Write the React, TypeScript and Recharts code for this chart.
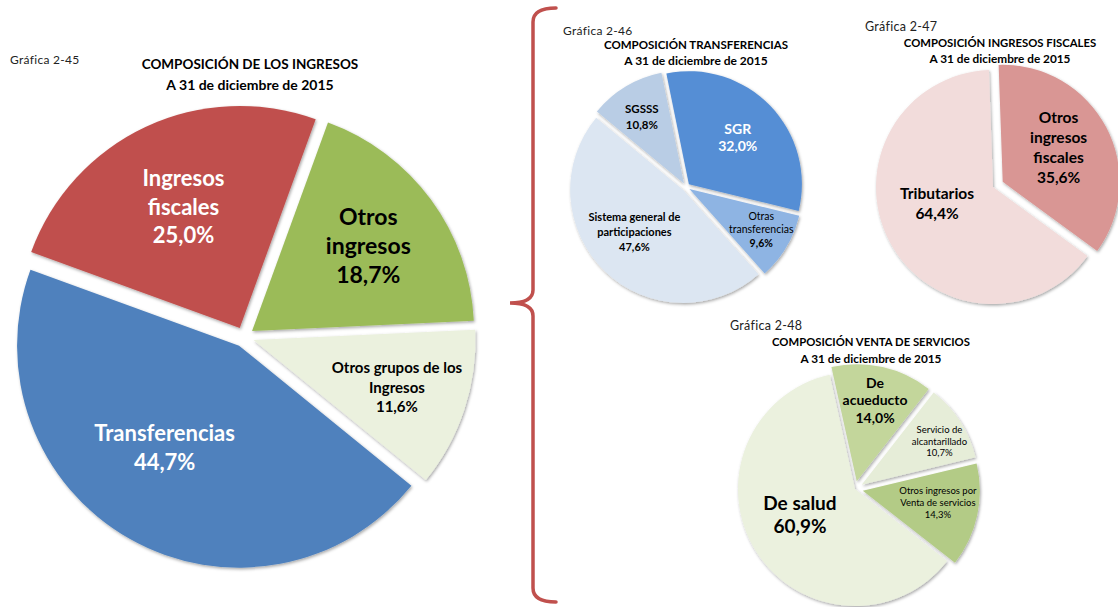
import React from 'react';
import { PieChart, Pie, Cell } from 'recharts';

// ---------- Gráfica 2-45: Composición de los ingresos ----------
const ingresosNames = ['Otros ingresos', 'Otros grupos de los Ingresos', 'Transferencias', 'Ingresos fiscales'];
const ingresosValues = [18.7, 11.6, 44.7, 25.0];
const ingresosLabels = [['Otros', 'ingresos'], ['Otros grupos de los', 'Ingresos'], ['Transferencias'], ['Ingresos', 'fiscales']];

// ---------- Gráfica 2-46: Composición transferencias ----------
const transfNames = ['SGR', 'Otras transferencias', 'Sistema general de participaciones', 'SGSSS'];
const transfValues = [32.0, 9.6, 47.6, 10.8];
const transfLabels = [['SGR'], ['Otras', 'transferencias'], ['Sistema general de', 'participaciones'], ['SGSSS']];

// ---------- Gráfica 2-47: Composición ingresos fiscales ----------
const fiscalNames = ['Otros ingresos fiscales', 'Tributarios'];
const fiscalValues = [35.6, 64.4];
const fiscalLabels = [['Otros', 'ingresos', 'fiscales'], ['Tributarios']];

// ---------- Gráfica 2-48: Composición venta de servicios ----------
const serviciosNames = ['De acueducto', 'Servicio de alcantarillado', 'Otros ingresos por Venta de servicios', 'De salud'];
const serviciosValues = [14.0, 10.7, 14.3, 60.9];
const serviciosLabels = [['De', 'acueducto'], ['Servicio de', 'alcantarillado'], ['Otros ingresos por', 'Venta de servicios'], ['De salud']];

const dateLine = 'A 31 de diciembre de 2015';

const FONT = 'Lato, "Noto Sans", sans-serif';

type SliceStyle = {
  color: string;
  explode: number;
  f: number;
  da: number;
  size: number;
  text: string;
  weight: number;
  pctWeight?: number;
  lh: number;
};

type PieSpec = {
  id: string;
  names: string[];
  values: number[];
  labels: string[][];
  cx: number;
  cy: number;
  r: number;
  start: number;
  slices: SliceStyle[];
};

const pies: PieSpec[] = [
  {
    id: 'p45',
    names: ingresosNames,
    values: ingresosValues,
    labels: ingresosLabels,
    cx: 244,
    cy: 337,
    r: 222,
    start: 70,
    slices: [
      { color: '#9BBB59', explode: 10, f: 0.65, da: 0, size: 23, text: '#000', weight: 700, lh: 29 },
      { color: '#EBF1DE', explode: 10, f: 0.68, da: 0, size: 15, text: '#000', weight: 700, lh: 19.5 },
      { color: '#4F81BD', explode: 10, f: 0.57, da: -6.5, size: 22, text: '#fff', weight: 700, lh: 29 },
      { color: '#C0504D', explode: 10, f: 0.6, da: 0, size: 22, text: '#fff', weight: 700, lh: 28.5 },
    ],
  },
  {
    id: 'p46',
    names: transfNames,
    values: transfValues,
    labels: transfLabels,
    cx: 686,
    cy: 187,
    r: 113,
    start: 101.5,
    slices: [
      { color: '#558ED5', explode: 4, f: 0.6, da: 0, size: 14, text: '#fff', weight: 700, lh: 17 },
      { color: '#8EB4E3', explode: 4, f: 0.73, da: 1.5, size: 10.5, text: '#000', weight: 400, pctWeight: 700, lh: 13.5 },
      { color: '#DCE6F2', explode: 4, f: 0.57, da: -5.3, size: 11, text: '#000', weight: 700, lh: 15 },
      { color: '#B9CDE5', explode: 4, f: 0.7, da: 1.2, size: 11.5, text: '#000', weight: 700, lh: 16 },
    ],
  },
  {
    id: 'p47',
    names: fiscalNames,
    values: fiscalValues,
    labels: fiscalLabels,
    cx: 993,
    cy: 187,
    r: 117,
    start: 92,
    slices: [
      { color: '#D99694', explode: 11, f: 0.56, da: 3.6, size: 15.5, text: '#000', weight: 700, lh: 20 },
      { color: '#F2DCDB', explode: 0, f: 0.5, da: -11, size: 15.5, text: '#000', weight: 700, lh: 20 },
    ],
  },
  {
    id: 'p48',
    names: serviciosNames,
    values: serviciosValues,
    labels: serviciosLabels,
    cx: 855,
    cy: 489,
    r: 117,
    start: 102.5,
    slices: [
      { color: '#C3D69B', explode: 8, f: 0.71, da: 0, size: 14, text: '#000', weight: 700, lh: 17.5 },
      { color: '#E6EDD8', explode: 8, f: 0.76, da: -3.7, size: 9.5, text: '#000', weight: 400, lh: 11.5 },
      { color: '#B3CB86', explode: 8, f: 0.65, da: 3.3, size: 9.5, text: '#000', weight: 400, lh: 12 },
      { color: '#EBF1DE', explode: 0, f: 0.52, da: -7, size: 19, text: '#000', weight: 700, lh: 23 },
    ],
  },
];

const RAD = Math.PI / 180;

function midAngles(values: number[], start: number): number[] {
  const total = values.reduce((a, b) => a + b, 0);
  let acc = 0;
  return values.map((v) => {
    const m = start - (360 * (acc + v / 2)) / total;
    acc += v;
    return m;
  });
}

function fmtPct(v: number): string {
  return v.toFixed(1).replace('.', ',') + '%';
}

function makeLabel(spec: PieSpec, sliceIndex: number) {
  const st = spec.slices[sliceIndex];
  return (props: any) => {
    if (props.index !== sliceIndex) return null;
    const { cx, cy, midAngle, outerRadius } = props;
    const ang = (midAngle + st.da) * RAD;
    const x = cx + st.f * outerRadius * Math.cos(ang);
    const y = cy - st.f * outerRadius * Math.sin(ang);
    const lines = [...spec.labels[sliceIndex], fmtPct(spec.values[sliceIndex])];
    const n = lines.length;
    const y0 = y - ((n - 1) / 2) * st.lh + st.size * 0.35;
    return (
      <text
        key={`lbl-${spec.id}-${sliceIndex}`}
        x={x}
        y={y0}
        textAnchor="middle"
        fontFamily={FONT}
        fontSize={st.size}
        fill={st.text}
        fontWeight={st.weight}
      >
        {lines.map((l, k) => (
          <tspan
            key={k}
            x={x}
            y={y0 + k * st.lh}
            fontWeight={k === n - 1 && st.pctWeight ? st.pctWeight : st.weight}
          >
            {l}
          </tspan>
        ))}
      </text>
    );
  };
}

function renderPies(spec: PieSpec) {
  const rows = spec.names.map((name, i) => ({ name, value: spec.values[i] }));
  const mids = midAngles(spec.values, spec.start);
  return spec.slices.map((st, i) => {
    const dx = st.explode * Math.cos(mids[i] * RAD);
    const dy = -st.explode * Math.sin(mids[i] * RAD);
    return (
      <Pie
        key={`${spec.id}-${i}`}
        data={rows}
        dataKey="value"
        nameKey="name"
        cx={spec.cx + dx}
        cy={spec.cy + dy}
        outerRadius={spec.r}
        innerRadius={0}
        startAngle={spec.start}
        endAngle={spec.start - 360}
        isAnimationActive={false}
        labelLine={false}
        label={makeLabel(spec, i)}
        stroke="none"
      >
        {rows.map((_, j) => (
          <Cell
            key={j}
            fill={j === i ? st.color : 'none'}
            stroke="none"
            className={j === i ? 'expl' : 'ghost'}
          />
        ))}
      </Pie>
    );
  });
}

const titles = [
  { g: 'Gráfica 2-45', gx: 10, gy: 64, t: 'COMPOSICIÓN DE LOS INGRESOS', tx: 250, ty1: 69, ty2: 90, ts: 13.5, gs: 12 },
  { g: 'Gráfica 2-46', gx: 563, gy: 35, t: 'COMPOSICIÓN  TRANSFERENCIAS', tx: 696, ty1: 48.5, ty2: 65, ts: 11.5, gs: 12 },
  { g: 'Gráfica 2-47', gx: 865, gy: 31, t: 'COMPOSICIÓN  INGRESOS  FISCALES', tx: 1000, ty1: 47, ty2: 63, ts: 11.3, gs: 12.5 },
  { g: 'Gráfica 2-48', gx: 730, gy: 329.5, t: 'COMPOSICIÓN  VENTA DE SERVICIOS', tx: 871, ty1: 346, ty2: 363, ts: 11.3, gs: 12.5 },
];

export default function App() {
  return (
    <div style={{ position: 'absolute', left: 0, top: 0, width: 1118, height: 607, background: '#fff', overflow: 'hidden' }}>
      <style>{`.expl { filter: url(#sliceShadow); }`}</style>
      <svg width={0} height={0} style={{ position: 'absolute' }}>
        <defs>
          <filter id="sliceShadow" x="-20%" y="-20%" width="140%" height="140%">
            <feDropShadow dx="1" dy="1.5" stdDeviation="1.8" floodColor="#000" floodOpacity="0.35" />
          </filter>
        </defs>
      </svg>
      <div style={{ position: 'absolute', left: 0, top: 0 }}>
        <PieChart width={1118} height={607} margin={{ top: 0, right: 0, bottom: 0, left: 0 }}>
          {pies.flatMap((p) => renderPies(p))}
        </PieChart>
      </div>
      <svg
        width={1118}
        height={607}
        style={{ position: 'absolute', left: 0, top: 0, pointerEvents: 'none' }}
      >
        {titles.map((t) => (
          <g key={t.g} fontFamily={FONT}>
            <text x={t.gx} y={t.gy} fontSize={t.gs} fill="#222" letterSpacing={0.3}>
              {t.g}
            </text>
            <text x={t.tx} y={t.ty1} fontSize={t.ts} fontWeight={700} textAnchor="middle" fill="#000">
              {t.t}
            </text>
            <text x={t.tx} y={t.ty2} fontSize={t.ts + 0.5} fontWeight={700} textAnchor="middle" fill="#000">
              {dateLine}
            </text>
          </g>
        ))}
        <path
          d="M 556 8 Q 533 8 533 22 L 533 290 Q 533 303 510 303 Q 533 303 533 316 L 533 588 Q 533 602 556 602"
          fill="none"
          stroke="#C0504D"
          strokeWidth={3.5}
          strokeLinecap="round"
        />
      </svg>
    </div>
  );
}
